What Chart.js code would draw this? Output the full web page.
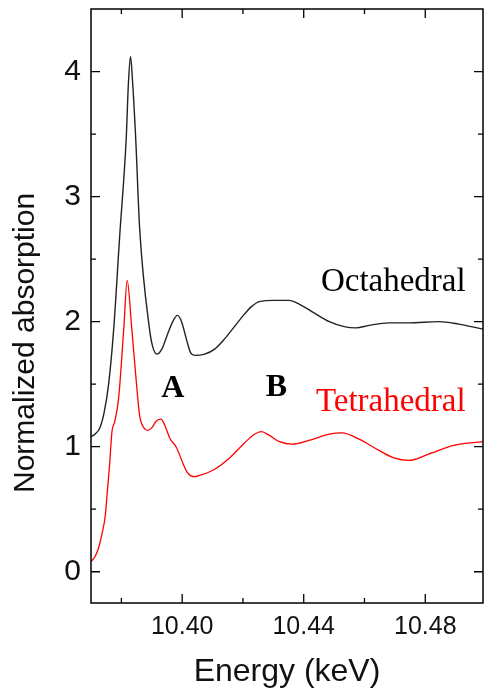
<!DOCTYPE html>
<html>
<head>
<meta charset="utf-8">
<script src="https://cdn.jsdelivr.net/npm/chart.js@4.4.0/dist/chart.umd.min.js"></script>
<style>
  html, body { margin: 0; padding: 0; background: #fff; }
  #wrap { width: 484px; height: 695px; }
</style>
</head>
<body>
<div id="wrap"><canvas id="xanes" width="484" height="695"></canvas></div>
<script>
// ===== Data
const energyOct = [10.3700, 10.3713, 10.3729, 10.3743, 10.3758, 10.3775, 10.3794, 10.3816, 10.3823, 10.3830,
  10.3836, 10.3847, 10.3860, 10.3892, 10.3903, 10.3917, 10.3933, 10.3952, 10.3969, 10.3984,
  10.3998, 10.4015, 10.4028, 10.4041, 10.4074, 10.4107, 10.4139, 10.4172, 10.4205, 10.4228,
  10.4254, 10.4303, 10.4352, 10.4385, 10.4434, 10.4484, 10.4533, 10.4572, 10.4615, 10.4680,
  10.4746, 10.4844, 10.4910, 10.4990];
const absOct = [1.08, 1.10, 1.15, 1.27, 1.50, 1.95, 2.67, 3.47, 3.90, 4.12,
  3.95, 3.47, 2.75, 1.95, 1.80, 1.74, 1.78, 1.90, 2.00, 2.05,
  2.00, 1.85, 1.75, 1.73, 1.74, 1.78, 1.86, 1.96, 2.06, 2.12,
  2.16, 2.17, 2.17, 2.14, 2.07, 2.00, 1.96, 1.95, 1.97, 1.99,
  1.99, 2.00, 1.98, 1.94];

const energyTet = [10.3700, 10.3713, 10.3725, 10.3736, 10.3747, 10.3754, 10.3761, 10.3769, 10.3778, 10.3791,
  10.3808, 10.3819, 10.3834, 10.3848, 10.3860, 10.3874, 10.3887, 10.3900, 10.3913, 10.3930,
  10.3943, 10.3959, 10.3982, 10.4002, 10.4018, 10.4038, 10.4057, 10.4107, 10.4156, 10.4205,
  10.4238, 10.4261, 10.4287, 10.4320, 10.4362, 10.4418, 10.4484, 10.4526, 10.4582, 10.4648,
  10.4697, 10.4746, 10.4811, 10.4893, 10.4990];
const absTet = [0.08, 0.12, 0.19, 0.30, 0.45, 0.65, 0.85, 1.12, 1.20, 1.39,
  1.95, 2.33, 1.95, 1.55, 1.25, 1.15, 1.13, 1.15, 1.20, 1.22,
  1.17, 1.07, 0.99, 0.87, 0.79, 0.76, 0.77, 0.82, 0.91, 1.03,
  1.10, 1.12, 1.09, 1.04, 1.02, 1.05, 1.10, 1.11, 1.06, 0.97,
  0.91, 0.89, 0.94, 1.01, 1.04];

const xTicks = [10.40, 10.44, 10.48];
const xMinorTicks = [10.38, 10.42, 10.46];
const yTicks = [0, 1, 2, 3, 4];
const yMinorTicks = [0.5, 1.5, 2.5, 3.5];

const seriesNames = ['Octahedral', 'Tetrahedral'];
const yTitle = 'Normalized absorption';

// ===== Utils
function toPoints(xs, ys) {
  return xs.map((x, i) => ({ x, y: ys[i] }));
}

function fixedBox(w, h) {
  return (scale) => {
    if (w != null) scale.width = w;
    if (h != null) scale.height = h;
    scale.paddingTop = 0; scale.paddingBottom = 0;
    scale.paddingLeft = 0; scale.paddingRight = 0;
  };
}

const sans = '"Liberation Sans", Arial, sans-serif';
const serif = '"Liberation Serif", "Times New Roman", serif';

// frame on four sides, inward ticks, text labels
const framePlugin = {
  id: 'frame',
  afterDraw(chart) {
    const { ctx, chartArea: a, scales: { x, y } } = chart;
    ctx.save();
    ctx.strokeStyle = '#000';
    ctx.lineWidth = 1.5;
    ctx.strokeRect(a.left, a.top, a.right - a.left, a.bottom - a.top);

    ctx.lineWidth = 1.3;
    ctx.beginPath();
    const xt = (v, len) => {
      const px = x.getPixelForValue(v);
      ctx.moveTo(px, a.bottom); ctx.lineTo(px, a.bottom - len);
      ctx.moveTo(px, a.top); ctx.lineTo(px, a.top + len);
    };
    const yt = (v, len) => {
      const py = y.getPixelForValue(v);
      ctx.moveTo(a.left, py); ctx.lineTo(a.left + len, py);
      ctx.moveTo(a.right, py); ctx.lineTo(a.right - len, py);
    };
    xTicks.forEach(v => xt(v, 9));
    xMinorTicks.forEach(v => xt(v, 5));
    yTicks.forEach(v => yt(v, 9));
    yMinorTicks.forEach(v => yt(v, 5));
    ctx.stroke();

    // y title, sits a bit low like the original
    ctx.save();
    ctx.translate(34, 493);
    ctx.rotate(-Math.PI / 2);
    ctx.font = '30px ' + sans;
    ctx.fillStyle = '#111';
    ctx.textAlign = 'left';
    ctx.textBaseline = 'alphabetic';
    ctx.fillText(yTitle, 0, 0);
    ctx.restore();

    // curve names + peak letters
    ctx.textBaseline = 'alphabetic';
    ctx.font = '33px ' + serif;
    ctx.textAlign = 'right';
    ctx.fillStyle = '#000';
    ctx.fillText(seriesNames[0], x.getPixelForValue(10.4933), y.getPixelForValue(2.246));
    ctx.fillStyle = '#ff0000';
    ctx.fillText(seriesNames[1], x.getPixelForValue(10.4933), y.getPixelForValue(1.284));

    ctx.font = 'bold 32px ' + serif;
    ctx.textAlign = 'center';
    ctx.fillStyle = '#000';
    ctx.fillText('A', x.getPixelForValue(10.3969), y.getPixelForValue(1.396));
    ctx.fillText('B', x.getPixelForValue(10.4310), y.getPixelForValue(1.404));
    ctx.restore();
  }
};

new Chart(document.getElementById('xanes'), {
  type: 'line',
  data: {
    datasets: [
      {
        label: seriesNames[0],
        data: toPoints(energyOct, absOct),
        borderColor: '#222',
        borderWidth: 1.4,
        pointRadius: 0,
        cubicInterpolationMode: 'monotone',
        fill: false
      },
      {
        label: seriesNames[1],
        data: toPoints(energyTet, absTet),
        borderColor: '#ff0000',
        borderWidth: 1.3,
        pointRadius: 0,
        cubicInterpolationMode: 'monotone',
        fill: false
      }
    ]
  },
  options: {
    responsive: false,
    animation: false,
    devicePixelRatio: 1,
    layout: { padding: { top: 9, right: 1, left: 0, bottom: 0 } },
    plugins: { legend: { display: false }, tooltip: { enabled: false } },
    scales: {
      x: {
        type: 'linear',
        min: 10.37,
        max: 10.499,
        afterBuildTicks: s => { s.ticks = xTicks.map(v => ({ value: v })); },
        afterFit: fixedBox(null, 92),
        grid: { display: false, drawTicks: false },
        border: { display: false },
        ticks: {
          padding: 9,
          color: '#111',
          font: { family: sans, size: 25 },
          maxRotation: 0,
          callback: v => Number(v).toFixed(2)
        },
        title: {
          display: true,
          text: 'Energy (keV)',
          color: '#111',
          font: { family: sans, size: 32 },
          padding: { top: 0, bottom: 4 }
        }
      },
      y: {
        min: -0.25,
        max: 4.5,
        afterBuildTicks: s => { s.ticks = yTicks.map(v => ({ value: v })); },
        afterFit: fixedBox(91, null),
        grid: { display: false, drawTicks: false },
        border: { display: false },
        ticks: {
          padding: 10,
          color: '#111',
          font: { family: sans, size: 30 }
        }
      }
    }
  },
  plugins: [framePlugin]
});
</script>
</body>
</html>
